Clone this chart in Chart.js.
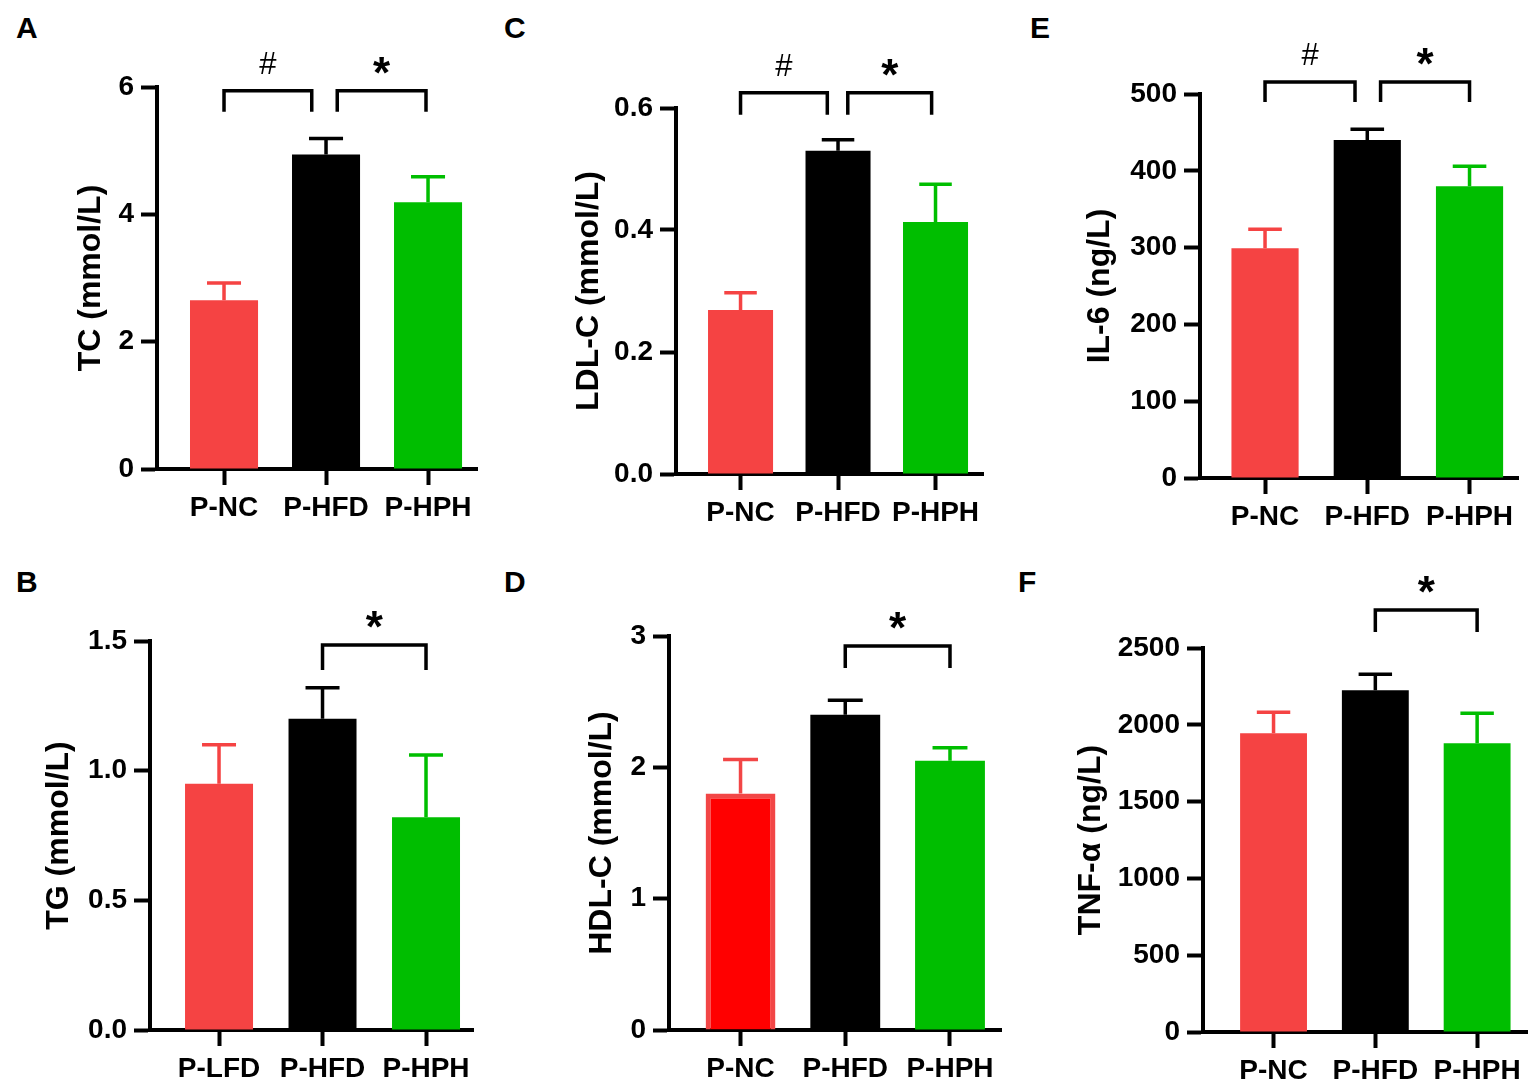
<!DOCTYPE html>
<html>
<head>
<meta charset="utf-8">
<script src="https://cdn.jsdelivr.net/npm/chart.js@4.4.1/dist/chart.umd.min.js"></script>
<style>
  body { margin: 0; background: #fff; width: 1535px; height: 1091px; position: relative; overflow: hidden; }
  canvas { position: absolute; left: 0; top: 0; }
  .tag { position: absolute; font: bold 30px "Liberation Sans", Arial, sans-serif; line-height: 30px; color: #000; }
</style>
</head>
<body>
<div class="tag" style="left:16px;top:13px">A</div>
<div class="tag" style="left:16px;top:567px">B</div>
<div class="tag" style="left:504px;top:13px">C</div>
<div class="tag" style="left:504px;top:567px">D</div>
<div class="tag" style="left:1030px;top:13px">E</div>
<div class="tag" style="left:1018px;top:567px">F</div>
<script>
// groups
const groupsNC = ['P-NC', 'P-HFD', 'P-HPH'];
const groupsLFD = ['P-LFD', 'P-HFD', 'P-HPH'];

// means and SEM
const tcMean = [2.65, 4.94, 4.19];
const tcSem = [0.27, 0.25, 0.40];
const tgMean = [0.95, 1.20, 0.82];
const tgSem = [0.15, 0.12, 0.24];
const ldlMean = [0.269, 0.530, 0.413];
const ldlSem = [0.028, 0.018, 0.062];
const hdlMean = [1.80, 2.40, 2.05];
const hdlSem = [0.26, 0.11, 0.10];
const il6Mean = [299, 440, 380];
const il6Sem = [25, 14, 26];
const tnfMean = [1945, 2225, 1880];
const tnfSem = [137, 104, 196];

// y tick labels
const tcTicks = ['0', '2', '4', '6'];
const tgTicks = ['0.0', '0.5', '1.0', '1.5'];
const ldlTicks = ['0.0', '0.2', '0.4', '0.6'];
const hdlTicks = ['0', '1', '2', '3'];
const il6Ticks = ['0', '100', '200', '300', '400', '500'];
const tnfTicks = ['0', '500', '1000', '1500', '2000', '2500'];

const RED = '#F54343', BLACK = '#000000', GREEN = '#00BE00';
const FONT = '"Liberation Sans", Arial, sans-serif';
Chart.defaults.font.family = FONT;
Chart.defaults.font.weight = 'bold';
Chart.defaults.color = '#000';

const errorBars = {
  id: 'errorBars',
  afterDatasetsDraw(chart, args, opts) {
    const ctx = chart.ctx;
    const y = chart.scales.y;
    const ds = chart.data.datasets[0];
    ctx.save();
    ctx.lineWidth = 3.5;
    chart.getDatasetMeta(0).data.forEach((bar, i) => {
      const top = y.getPixelForValue(ds.data[i].y + opts.sem[i]);
      const half = bar.width / 4;
      ctx.strokeStyle = opts.colors[i];
      ctx.beginPath();
      ctx.moveTo(bar.x, bar.y);
      ctx.lineTo(bar.x, top);
      ctx.moveTo(bar.x - half, top);
      ctx.lineTo(bar.x + half, top);
      ctx.stroke();
    });
    ctx.restore();
  }
};

const sigBrackets = {
  id: 'sigBrackets',
  afterDraw(chart, args, opts) {
    const ctx = chart.ctx;
    const x = chart.scales.x, y = chart.scales.y;
    const yTop = y.getPixelForValue(opts.top);
    const yLeg = y.getPixelForValue(opts.leg);
    ctx.save();
    ctx.strokeStyle = '#000';
    ctx.lineWidth = 3.5;
    ctx.fillStyle = '#000';
    ctx.textAlign = 'center';
    ctx.textBaseline = 'alphabetic';
    opts.spans.forEach(([a, b, sym]) => {
      const xa = x.getPixelForValue(a), xb = x.getPixelForValue(b);
      ctx.beginPath();
      ctx.moveTo(xa, yLeg);
      ctx.lineTo(xa, yTop);
      ctx.lineTo(xb, yTop);
      ctx.lineTo(xb, yLeg);
      ctx.stroke();
      const cx = (xa + xb) / 2;
      if (sym === '#') {
        ctx.font = 'normal 31px ' + FONT;
        ctx.fillText(sym, cx, yTop - 28 + 11);
      } else {
        ctx.font = 'bold 44px ' + FONT;
        ctx.fillText(sym, cx, yTop - 26 + 23);
      }
    });
    ctx.restore();
  }
};

const panels = [
  { cats: groupsNC, mean: tcMean, sem: tcSem, ticks: tcTicks, title: 'TC (mmol/L)',
    L: 157, T: 87, R: 477, B: 469, xr: [0.343, 3.48], titleOff: 66, barPct: 0.667,
    br: { top: 5.94, leg: 5.61, spans: [[1, 1.86, '#'], [2.11, 2.98, '*']] } },
  { cats: groupsLFD, mean: tgMean, sem: tgSem, ticks: tgTicks, title: 'TG (mmol/L)',
    L: 150, T: 641, R: 473, B: 1030, xr: [0.333, 3.454], titleOff: 91, barPct: 0.657,
    br: { top: 1.485, leg: 1.388, spans: [[2, 3, '*']] } },
  { cats: groupsNC, mean: ldlMean, sem: ldlSem, ticks: ldlTicks, title: 'LDL-C (mmol/L)',
    L: 676, T: 108, R: 983, B: 474, xr: [0.338, 3.487], titleOff: 87, barPct: 0.667,
    br: { top: 0.625, leg: 0.589, spans: [[1, 1.89, '#'], [2.1, 2.96, '*']] } },
  { cats: groupsNC, mean: hdlMean, sem: hdlSem, ticks: hdlTicks, title: 'HDL-C (mmol/L)',
    L: 669, T: 636, R: 1001, B: 1030, xr: [0.317, 3.487], titleOff: 67, barPct: 0.667,
    fill: ['#FF0000', BLACK, GREEN], edge: ['#F24646', BLACK, GREEN], edgeWidth: [5, 0, 0],
    br: { top: 2.924, leg: 2.757, spans: [[2, 3, '*']] } },
  { cats: groupsNC, mean: il6Mean, sem: il6Sem, ticks: il6Ticks, title: 'IL-6 (ng/L)',
    L: 1200, T: 94, R: 1518, B: 478, xr: [0.364, 3.474], titleOff: 100, barPct: 0.657,
    br: { top: 515.6, leg: 489.6, spans: [[1, 1.88, '#'], [2.13, 3, '*']] } },
  { cats: groupsNC, mean: tnfMean, sem: tnfSem, ticks: tnfTicks, title: 'TNF-α (ng/L)',
    L: 1203, T: 648, R: 1527, B: 1032, xr: [0.307, 3.49], titleOff: 112, barPct: 0.657,
    br: { top: 2747, leg: 2604, spans: [[2, 3, '*']] } }
];

function makeChart(p) {
  const canvas = document.createElement('canvas');
  canvas.width = 1535;
  canvas.height = 1091;
  document.body.appendChild(canvas);
  const yVals = p.ticks.map(Number);
  const yW = p.titleOff + 32 * 1.2 / 2;
  const xH = 70;
  const fill = p.fill || [RED, BLACK, GREEN];
  const edge = p.edge || fill;
  return new Chart(canvas.getContext('2d'), {
    type: 'bar',
    data: {
      datasets: [{
        data: p.cats.map((c, i) => ({ x: i + 1, y: p.mean[i] })),
        backgroundColor: fill,
        borderColor: edge,
        borderWidth: p.edgeWidth || 0,
        borderSkipped: 'bottom',
        barPercentage: p.barPct,
        categoryPercentage: 1
      }]
    },
    options: {
      responsive: false,
      animation: false,
      devicePixelRatio: 1,
      events: [],
      layout: { padding: { left: p.L - yW, top: p.T, right: 1535 - p.R, bottom: 1091 - p.B - xH } },
      plugins: {
        legend: { display: false },
        tooltip: { enabled: false },
        errorBars: { sem: p.sem, colors: edge },
        sigBrackets: p.br
      },
      scales: {
        x: {
          type: 'linear', min: p.xr[0], max: p.xr[1], z: 1, offset: false,
          afterBuildTicks: s => { s.ticks = p.cats.map((c, i) => ({ value: i + 1 })); },
          afterFit: s => { s.height = xH; },
          ticks: { callback: v => p.cats[v - 1], font: { size: 28, weight: 'bold' }, color: '#000',
                   padding: 6, autoSkip: false, maxRotation: 0 },
          grid: { offset: false, drawOnChartArea: false, drawTicks: true, tickLength: 16, tickWidth: 4, color: '#000' },
          border: { display: true, width: 4, color: '#000' }
        },
        y: {
          min: 0, max: yVals[yVals.length - 1], z: 1,
          afterBuildTicks: s => { s.ticks = yVals.map(v => ({ value: v })); },
          afterFit: s => { s.width = yW; },
          ticks: { callback: (v, i) => p.ticks[i], font: { size: 28, weight: 'bold' }, color: '#000', padding: 7 },
          title: { display: true, text: p.title, font: { size: 32, weight: 'bold' }, color: '#000', padding: 0 },
          grid: { drawOnChartArea: false, drawTicks: true, tickLength: 16, tickWidth: 4, color: '#000' },
          border: { display: true, width: 4, color: '#000' }
        }
      }
    },
    plugins: [errorBars, sigBrackets]
  });
}

panels.forEach(makeChart);
</script>
</body>
</html>
